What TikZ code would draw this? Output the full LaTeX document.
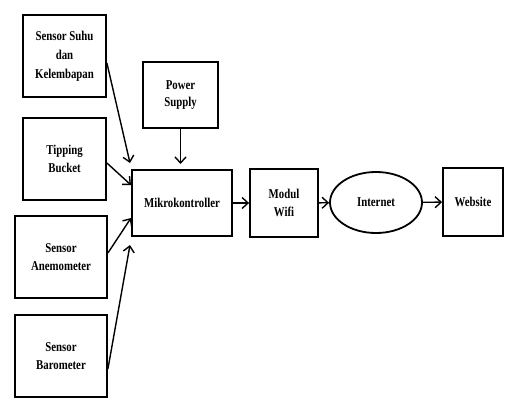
\documentclass[tikz,border=0pt]{standalone}
\usepackage{fontspec}
\usepackage{tikz}
\usetikzlibrary{shapes.geometric,arrows.meta}
\newfontfamily\boxfont{Liberation Serif}[FakeStretch=0.8]

\begin{document}
\begin{tikzpicture}[x=1pt,y=-1pt,>={Straight Barb[length=6pt,width=11pt]},
  every node/.style={draw,line width=1.8pt,align=center,inner sep=0pt,
    font=\boxfont\bfseries\fontsize{13.5}{17.5}\selectfont},
  blok/.style={rectangle},
  panah/.style={->,line width=1.4pt}]
   \useasboundingbox (0,0) rectangle (505,404);
   % sensor di kiri
   \node[blok,minimum width=83,minimum height=82] (suhu) at (64.5,56) {Sensor Suhu\\[1.5pt]dan\\[1.5pt]Kelembapan};
   \node[blok,minimum width=83,minimum height=82] (tipping) at (64.5,159) {Tipping\\Bucket};
   \node[blok,minimum width=92,minimum height=82] (anemo) at (61,257) {Sensor\\Anemometer};
   \node[blok,minimum width=92,minimum height=82] (baro) at (61,356) {Sensor\\Barometer};
   % tengah
   \node[blok,minimum width=75,minimum height=66] (power) at (180.5,95) {Power\\Supply};
   \node[blok,minimum width=100,minimum height=66] (mikro) at (182,203) {Mikrokontroller};
   \node[blok,minimum width=68,minimum height=68] (wifi) at (284,203) {Modul\\Wifi};
   \node[ellipse,minimum width=92,minimum height=61] (internet) at (376,202.5) {Internet};
   \node[blok,minimum width=60,minimum height=68] (web) at (473,202) {Website};
   % ujung panah
   \coordinate (in1) at (130,163);
   \coordinate (in2) at (131,185);
   \coordinate (in3) at (131,218);
   \coordinate (in4) at (130,245);
   \coordinate (in5) at (180.5,164);
   \draw[panah] ([yshift=-7pt]suhu.east) -- (in1);
   \draw[panah] ([yshift=-4pt]tipping.east) -- (in2);
   \draw[panah] ([yshift=4pt]anemo.east) -- (in3);
   \draw[panah] ([yshift=-13pt]baro.east) -- (in4);
   \draw[panah] (power.south) -- (in5);
   \draw[panah] (mikro) -- (wifi);
   \draw[panah] (wifi) -- (internet);
   \draw[panah] (internet) -- (web);
\end{tikzpicture}
\end{document}
